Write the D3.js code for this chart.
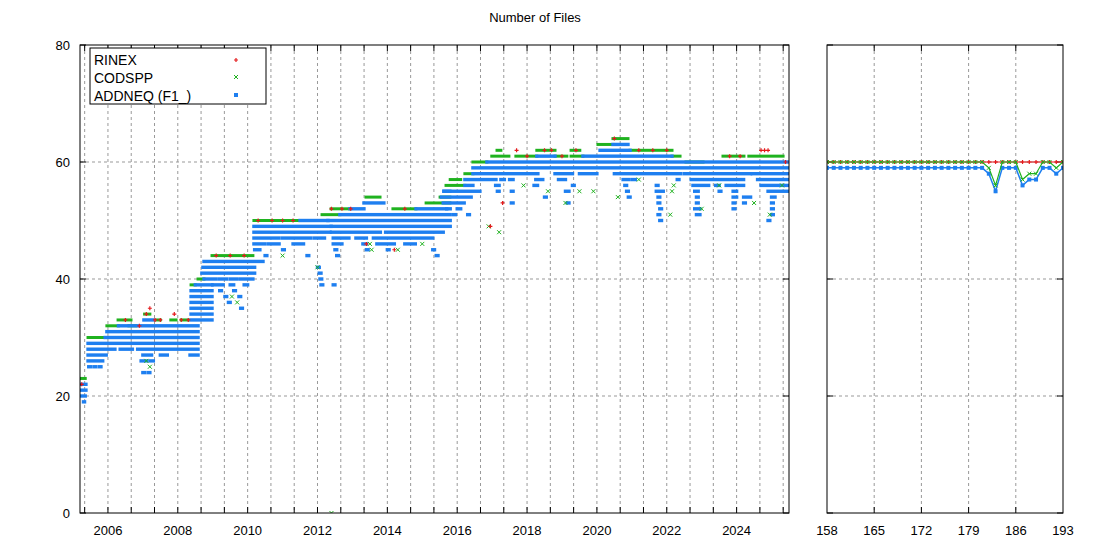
<!DOCTYPE html>
<html><head><meta charset="utf-8">
<script src="https://cdn.jsdelivr.net/npm/d3@7"></script>
<style>
body{margin:0;background:#fff}
text{font-family:"Liberation Sans",Arial,sans-serif;fill:#000}
</style></head><body>
<svg id="c" width="1100" height="550"></svg>
<script>
// ---- data ----
// horizontal runs of daily points: [fromYear, toYear, nFiles]
const addneqRuns = [
  [2005.23,2005.37,22],[2005.23,2005.37,21],[2005.23,2005.35,20],[2005.30,2005.33,19],
  [2005.43,2008.58,29],[2005.43,2006.2,28],[2006.35,2006.7,28],[2006.85,2008.58,28],
  [2005.43,2005.95,27],[2007.0,2007.25,27],[2007.5,2007.7,27],[2008.35,2008.58,27],
  [2005.43,2005.85,26],[2006.95,2007.1,26],[2007.2,2007.3,26],
  [2005.45,2005.5,25],[2005.6,2005.65,25],[2005.75,2005.8,25],[2007.0,2007.05,24],[2007.15,2007.2,24],
  [2005.92,2008.58,30],[2005.97,2008.58,31],[2006.3,2008.58,32],[2007.03,2007.29,33],
  [2008.38,2008.98,33],[2008.38,2008.98,34],[2008.38,2008.98,35],[2008.38,2008.98,36],
  [2008.38,2008.98,37],[2008.38,2008.98,38],[2008.5,2008.98,39],
  [2008.75,2009.1,40],[2009.2,2009.4,40],[2009.5,2009.7,40],[2009.8,2010.15,40],
  [2008.69,2010.2,41],[2008.72,2010.2,42],[2008.75,2010.44,43],
  [2009.0,2009.3,39],[2009.5,2009.6,39],[2009.9,2010.0,39],[2009.2,2009.25,38],[2009.6,2009.65,38],
  [2009.35,2009.4,37],[2009.75,2009.8,37],[2009.45,2009.5,36],[2009.8,2009.85,35],
  [2010.18,2012.39,49],[2010.18,2012.36,48],[2010.18,2010.9,47],[2011.0,2011.8,47],[2011.9,2012.2,47],
  [2010.18,2010.5,46],[2010.6,2010.9,46],[2011.3,2011.6,46],[2010.2,2010.35,45],[2011.0,2011.05,45],
  [2010.5,2010.55,44],[2011.7,2011.75,44],[2011.5,2012.3,50],
  [2012.0,2012.05,42],[2012.05,2012.1,41],[2012.07,2012.12,40],[2012.1,2012.15,39],[2012.45,2012.5,39],
  [2012.39,2015.8,49],[2012.4,2013.8,48],[2013.95,2015.6,48],[2012.45,2012.9,47],[2013.1,2013.4,47],
  [2013.6,2015.3,47],[2012.45,2012.7,46],[2013.3,2013.4,46],[2013.7,2014.2,46],[2014.5,2014.8,46],
  [2012.5,2012.55,45],[2013.4,2013.45,45],[2014.0,2014.05,45],[2015.3,2015.35,45],
  [2012.55,2012.6,44],[2015.4,2015.45,44],
  [2012.3,2015.8,50],[2012.64,2015.8,51],[2012.93,2013.33,52],[2014.82,2015.7,52],[2013.33,2013.9,53],
  [2015.62,2015.79,55],
  [2015.6,2016.2,53],[2015.55,2016.4,54],[2015.62,2016.65,55],[2016.22,2016.45,56],
  [2015.7,2015.8,52],[2016.0,2016.1,52],[2015.9,2015.95,51],[2016.3,2016.35,51],
  [2016.22,2017.11,57],[2017.25,2017.35,57],[2017.5,2017.6,57],[2018.25,2018.45,57],[2018.9,2019.1,57],
  [2016.45,2018.31,58],[2018.8,2019.3,58],[2019.5,2020.0,58],
  [2016.45,2025.5,59],[2016.85,2025.5,60],[2018.28,2018.8,61],[2019.6,2022.15,61],
  [2020.09,2020.95,62],[2020.46,2020.89,63],
  [2017.1,2017.2,56],[2018.2,2018.3,56],[2019.3,2019.35,56],[2017.15,2017.2,55],[2017.55,2017.6,55],
  [2019.1,2019.2,55],[2018.5,2018.55,54],[2017.55,2017.6,53],[2019.15,2019.2,53],
  [2020.5,2022.4,58],[2022.5,2024.4,58],[2024.45,2025.5,58],
  [2020.75,2020.9,57],[2021.0,2021.1,57],[2022.3,2022.35,57],[2022.7,2024.2,57],[2024.6,2025.5,57],
  [2020.8,2020.85,56],[2021.7,2021.75,56],[2022.75,2023.2,56],[2023.4,2023.5,56],[2023.7,2024.2,56],[2024.7,2025.5,56],
  [2020.85,2020.9,55],[2021.7,2021.9,55],[2022.8,2022.9,55],[2023.5,2023.55,55],[2023.9,2024.0,55],[2024.9,2025.5,55],
  [2020.9,2020.95,54],[2021.75,2021.8,54],[2022.85,2022.9,54],[2023.9,2024.0,54],[2024.2,2024.4,54],[2025.0,2025.1,54],
  [2021.75,2021.8,53],[2022.85,2022.9,53],[2023.9,2023.95,53],[2024.2,2024.25,53],[2025.0,2025.05,53],
  [2021.8,2021.85,52],[2022.8,2022.95,52],[2023.9,2023.95,52],[2025.0,2025.05,52],
  [2021.75,2021.8,51],[2022.85,2022.95,51],[2025.0,2025.05,51],[2021.8,2021.85,50],[2024.9,2024.95,50]
];
const codsppRuns = [
  [2005.2,2005.35,23],[2005.43,2005.92,30],[2005.97,2006.3,32],[2006.6,2006.8,32],[2006.29,2006.66,33],
  [2007.4,2007.5,33],[2007.8,2007.95,33],[2008.1,2008.3,33],[2007.05,2007.2,34],[2008.38,2008.5,39],
  [2008.58,2008.75,40],[2008.98,2010.15,44],[2010.18,2011.5,50],[2012.13,2012.64,51],[2012.39,2012.93,52],
  [2013.39,2013.79,54],[2014.16,2014.82,52],[2015.11,2015.79,53],[2015.51,2015.79,54],[2015.68,2016.22,56],
  [2015.8,2016.1,57],[2016.22,2016.45,58],[2016.45,2016.85,60],[2016.99,2017.48,61],[2017.14,2017.25,62],
  [2017.68,2018.28,61],[2018.28,2018.8,62],[2018.8,2019.14,61],[2019.26,2019.51,62],[2019.26,2019.6,61],
  [2020.03,2020.46,63],[2020.46,2020.89,64],[2020.95,2022.15,62],[2022.15,2022.38,61],[2022.55,2023.04,60],
  [2023.61,2024.21,61],[2024.35,2025.33,61]
];
// single scattered points: [year, nFiles]
const codsppDots = [
  [2012.4,0],[2007.1,26],[2007.2,25],[2009.55,37],[2009.7,36],[2011.0,44],[2012.0,42],[2013.5,46],[2013.55,45],
  [2014.3,45],[2015.0,46],[2016.9,49],[2017.2,48],[2017.9,56],[2018.6,55],[2019.1,53],[2019.5,55],
  [2019.9,55],[2020.6,54],[2021.2,57],[2022.1,51],[2022.15,55],[2022.2,56],[2023.0,52],[2023.5,56],
  [2024.5,53],[2024.95,51],[2025.3,56]
];
const rinexDots = [
  [2005.25,22],[2006.5,33],[2006.9,32],[2007.1,34],[2007.2,35],[2007.35,33],[2007.5,33],[2007.9,34],
  [2008.1,33],[2008.3,33],[2009.1,44],[2009.5,44],[2009.9,44],[2010.3,50],[2010.7,50],[2011.0,50],
  [2011.3,50],[2012.4,52],[2012.7,52],[2012.95,52],[2013.4,46],[2014.2,45],[2014.5,52],[2016.95,49],
  [2017.3,53],[2017.7,62],[2018.0,61],[2018.5,62],[2018.7,62],[2019.0,61],[2019.4,62],[2020.5,64],
  [2021.2,62],[2021.6,62],[2022.0,62],[2023.8,61],[2024.1,61],[2024.7,62],[2024.8,62],[2024.9,62],[2025.4,60]
];
// right panel: day of year 158..193
const days = d3.range(158, 194);
const rinexDay  = [60,60,60,60,60,60,60,60,60,60,60,60,60,60,60,60,60,60,60,60,60,60,60,60,60,60,60,60,60,60,60,60,60,60,60,60];
const codsppDay = [60,60,60,60,60,60,60,60,60,60,60,60,60,60,60,60,60,60,60,60,60,60,60,60,59,56,60,60,60,57,58,58,60,60,59,60];
const addneqDay = [59,59,59,59,59,59,59,59,59,59,59,59,59,59,59,59,59,59,59,59,59,59,59,59,58,55,59,59,59,56,57,57,59,59,58,59];
const yTicks = [0, 20, 40, 60, 80];
const yearLabels = d3.range(2006, 2025, 2);
const dayTicks = d3.range(158, 194, 7);

const RED = '#e41a1c', GREEN = '#1fb21f', BLUE = '#1e7ff0';
const svg = d3.select('#c');
svg.append('rect').attr('width', 1100).attr('height', 550).attr('fill', '#fff');
svg.append('text').attr('x', 535).attr('y', 22).attr('text-anchor', 'middle')
   .style('font-size', '13px').text('Number of Files');

const pTop = 45, pBot = 513;
const y = d3.scaleLinear().domain([0, 80]).range([pBot, pTop]);
const xL = d3.scaleLinear().domain([2005.2, 2025.5]).range([80, 789]);
const xR = d3.scaleLinear().domain([158, 193]).range([827, 1063]);

function frame(g, x0, x1, vx, id) {
  g.append('clipPath').attr('id', id).append('rect')
   .attr('x', x0).attr('y', pTop).attr('width', x1 - x0).attr('height', pBot - pTop);
  const grid = g.append('g').attr('stroke', '#999').attr('stroke-dasharray', '3,3').attr('stroke-width', 1);
  yTicks.slice(1, -1).forEach(v => grid.append('line').attr('x1', x0).attr('x2', x1).attr('y1', y(v)).attr('y2', y(v)));
  vx.forEach(px => grid.append('line').attr('x1', px).attr('x2', px).attr('y1', pTop).attr('y2', pBot));
  const tk = g.append('g').attr('stroke', '#000');
  yTicks.forEach(v => {
    tk.append('line').attr('x1', x0).attr('x2', x0 + 6).attr('y1', y(v)).attr('y2', y(v));
    tk.append('line').attr('x1', x1).attr('x2', x1 - 6).attr('y1', y(v)).attr('y2', y(v));
  });
  vx.forEach(px => {
    tk.append('line').attr('x1', px).attr('x2', px).attr('y1', pBot).attr('y2', pBot - 6);
    tk.append('line').attr('x1', px).attr('x2', px).attr('y1', pTop).attr('y2', pTop + 6);
  });
}

// ---- left panel ----
const gl = svg.append('g');
const minor = d3.range(2006 - 2 / 3, 2025.6, 2 / 3).map(xL).filter(px => px > 81 && px < 788);
frame(gl, 80, 789, minor, 'clipL');
const pl = gl.append('g').attr('clip-path', 'url(#clipL)');
pl.selectAll('rect.c').data(codsppRuns).join('rect')
  .attr('x', d => xL(d[0]) - 1.5).attr('width', d => xL(d[1]) - xL(d[0]) + 3)
  .attr('y', d => y(d[2]) - 1.5).attr('height', 3).attr('fill', GREEN);
pl.selectAll('rect.a').data(addneqRuns).join('rect')
  .attr('x', d => xL(d[0]) - 1.7).attr('width', d => xL(d[1]) - xL(d[0]) + 3.4)
  .attr('y', d => y(d[2]) - 1.7).attr('height', 3.4).attr('fill', BLUE);
const xMark = (sel, xs, ys) => sel.append('path')
  .attr('d', (d, i) => { const cx = xs(d, i), cy = ys(d, i); return `M${cx-2},${cy-2}L${cx+2},${cy+2}M${cx-2},${cy+2}L${cx+2},${cy-2}`; })
  .attr('stroke', GREEN).attr('stroke-width', 1);
const plus = (sel, xs, ys) => sel.append('path')
  .attr('d', (d, i) => { const cx = xs(d, i), cy = ys(d, i); return `M${cx-2},${cy}L${cx+2},${cy}M${cx},${cy-2}L${cx},${cy+2}`; })
  .attr('stroke', RED).attr('stroke-width', 1.2);
pl.selectAll('g.cd').data(codsppDots).join('g').call(s => xMark(s, d => xL(d[0]), d => y(d[1])));
pl.selectAll('g.rd').data(rinexDots).join('g').call(s => plus(s, d => xL(d[0]), d => y(d[1])));
gl.append('rect').attr('x', 80).attr('y', pTop).attr('width', 709).attr('height', pBot - pTop)
  .attr('fill', 'none').attr('stroke', '#000');
gl.selectAll('text.yt').data(yTicks).join('text').attr('x', 70).attr('y', d => y(d) + 5)
  .attr('text-anchor', 'end').style('font-size', '13px').text(d => d);
gl.selectAll('text.xt').data(yearLabels).join('text').attr('x', d => xL(d)).attr('y', 535)
  .attr('text-anchor', 'middle').style('font-size', '13px').text(d => d);

// legend
const lg = gl.append('g');
lg.append('rect').attr('x', 90).attr('y', 48).attr('width', 176).attr('height', 56)
  .attr('fill', '#fff').attr('stroke', '#000');
['RINEX', 'CODSPP', 'ADDNEQ (F1_)'].forEach((t, i) => {
  lg.append('text').attr('x', 94).attr('y', 65 + i * 18).style('font-size', '14px').text(t);
});
lg.append('g').datum(0).call(s => plus(s, () => 236, () => 60));
lg.append('g').datum(0).call(s => xMark(s, () => 236, () => 77));
lg.append('rect').attr('x', 234).attr('y', 93).attr('width', 4).attr('height', 4).attr('fill', BLUE);

// ---- right panel ----
const gr = svg.append('g');
frame(gr, 827, 1063, dayTicks.slice(1, -1).map(xR), 'clipR');
const pr = gr.append('g').attr('clip-path', 'url(#clipR)');
const line = d3.line().x((d, i) => xR(days[i])).y(d => y(d));
pr.append('path').attr('d', line(rinexDay)).attr('fill', 'none').attr('stroke', RED).attr('stroke-width', 1);
pr.selectAll('g.rr').data(rinexDay).join('g').call(s => plus(s, (d, i) => xR(days[i]), d => y(d)));
pr.append('path').attr('d', line(addneqDay)).attr('fill', 'none').attr('stroke', BLUE).attr('stroke-width', 1.5);
pr.selectAll('rect.ar').data(addneqDay).join('rect')
  .attr('x', (d, i) => xR(days[i]) - 2).attr('y', d => y(d) - 2).attr('width', 4).attr('height', 4).attr('fill', BLUE);
pr.append('path').attr('d', line(codsppDay)).attr('fill', 'none').attr('stroke', GREEN).attr('stroke-width', 1.2);
pr.selectAll('g.cr').data(codsppDay).join('g').call(s => xMark(s, (d, i) => xR(days[i]), d => y(d)));
gr.append('rect').attr('x', 827).attr('y', pTop).attr('width', 236).attr('height', pBot - pTop)
  .attr('fill', 'none').attr('stroke', '#000');
gr.selectAll('text.dt').data(dayTicks).join('text').attr('x', d => xR(d)).attr('y', 535)
  .attr('text-anchor', 'middle').style('font-size', '13px').text(d => d);
</script></body></html>
